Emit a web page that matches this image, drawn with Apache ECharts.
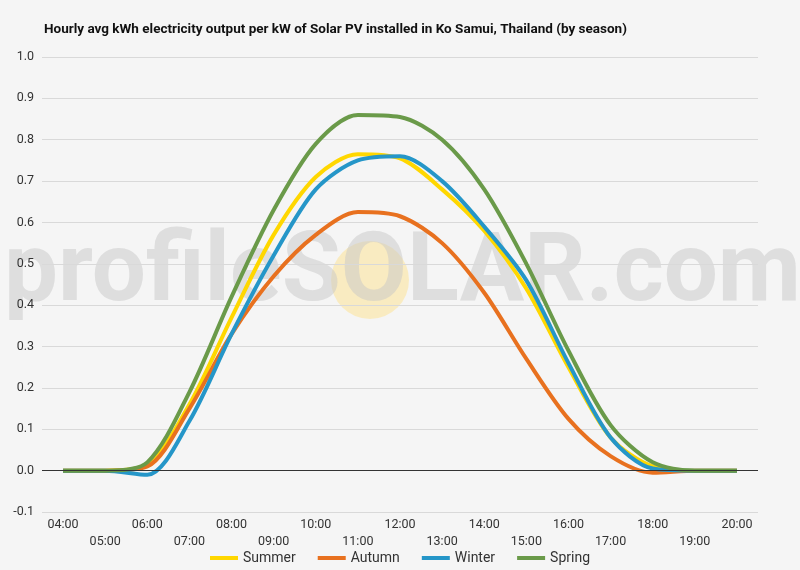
<!DOCTYPE html>
<html><head><meta charset="utf-8">
<script src="https://cdn.jsdelivr.net/npm/echarts@6/dist/echarts.min.js"></script>
<style>html,body{margin:0;padding:0;background:#f5f5f5}#c{width:800px;height:570px}</style>
</head><body><div id="c"></div>
<script>
const hours = ["04:00","05:00","06:00","07:00","08:00","09:00","10:00","11:00","12:00","13:00","14:00","15:00","16:00","17:00","18:00","19:00","20:00"];
const summer = [0,0,0.015,0.16,0.37,0.57,0.71,0.765,0.755,0.68,0.58,0.44,0.25,0.08,0.01,0,0];
const autumn = [0,0,0.01,0.15,0.33,0.47,0.57,0.625,0.615,0.55,0.43,0.27,0.125,0.035,-0.005,0,0];
const winter = [0,0,-0.01,0.12,0.33,0.52,0.68,0.75,0.76,0.70,0.59,0.46,0.26,0.08,0.005,0,0];
const spring = [0,0,0.02,0.19,0.42,0.63,0.79,0.86,0.855,0.80,0.68,0.50,0.29,0.11,0.02,0,0];
const chart = echarts.init(document.getElementById('c'));
const mk = (name, data, color) => ({name, type:'line', data, smooth:0.3, symbol:'none', lineStyle:{width:4, color}, itemStyle:{color}});
chart.setOption({
  backgroundColor:'#f5f5f5',
  textStyle:{fontFamily:'Roboto'},
  title:{text:'Hourly avg kWh electricity output per kW of Solar PV installed in Ko Samui, Thailand (by season)', left:39, top:18, textStyle:{fontSize:13.5, fontWeight:'bold', color:'#111', fontFamily:'Roboto'}},
  graphic:[
    {type:'circle', shape:{cx:370, cy:280, r:39}, style:{fill:'rgba(255,225,130,0.45)'}, z:0},
    {type:'text', left:4, top:228, style:{text:'profileSOLAR.com', font:'bold 96px Roboto', fill:'rgba(200,200,200,0.5)'}, z:0}
  ],
  legend:{bottom:0, itemGap:22, itemWidth:28, itemHeight:4, icon:'rect', textStyle:{fontSize:14, color:'#333'}},
  grid:{left:42, right:42, top:57, bottom:58},
  xAxis:{type:'category', data:hours, boundaryGap:true,
    axisTick:{show:false}, axisLine:{show:false},
    axisLabel:{interval:0, color:'#333', fontSize:12.5, margin:4,
      formatter:(v,i)=> i%2===0 ? v : '\n'+v, lineHeight:17}},
  yAxis:{type:'value', min:-0.1, max:1.0, interval:0.1,
    axisLabel:{color:'#333', fontSize:12.5, formatter:v=>v.toFixed(1)},
    splitLine:{lineStyle:{color:'#d9d9d9'}}},
  series:[mk('Summer',summer,'#ffd700'), mk('Autumn',autumn,'#e8711f'), mk('Winter',winter,'#2596c8'), mk('Spring',spring,'#6a9a49'),
    {type:'line', data:[], markLine:{silent:true, symbol:'none', label:{show:false}, lineStyle:{color:'#333', type:'solid', width:1}, data:[{yAxis:0}]}}]
});
</script></body></html>
